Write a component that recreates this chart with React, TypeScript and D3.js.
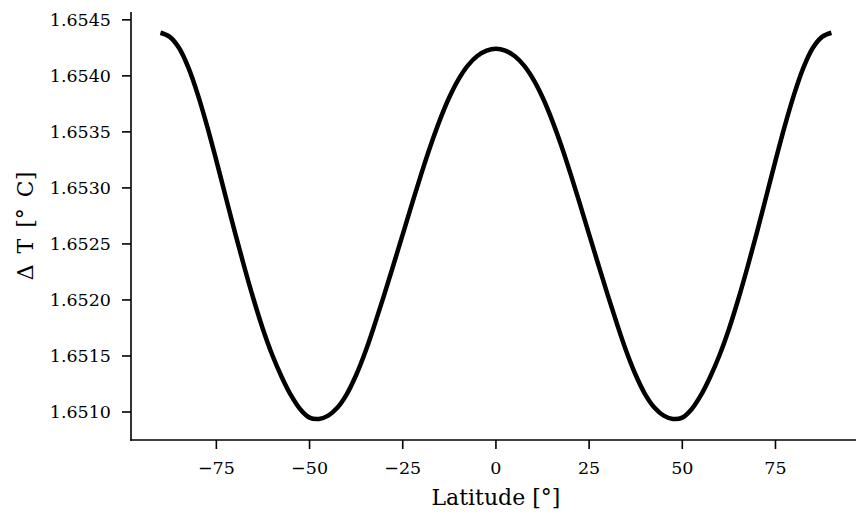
import React from "react";
import * as d3 from "d3";

// Temperature change versus latitude, sampled every 2.5 degrees
const latitudes = [
  -90, -87.5, -85, -82.5, -80, -77.5, -75, -72.5, -70, -67.5, -65, -62.5, -60, -57.5, -55,
  -52.5, -50, -47.5, -45, -42.5, -40, -37.5, -35, -32.5, -30, -27.5, -25, -22.5, -20, -17.5,
  -15, -12.5, -10, -7.5, -5, -2.5, 0, 2.5, 5, 7.5, 10, 12.5, 15, 17.5, 20, 22.5, 25, 27.5, 30,
  32.5, 35, 37.5, 40, 42.5, 45, 47.5, 50, 52.5, 55, 57.5, 60, 62.5, 65, 67.5, 70, 72.5, 75,
  77.5, 80, 82.5, 85, 87.5, 90,
];
const deltaT = [
  1.654385, 1.654348, 1.654248, 1.654073, 1.653835, 1.653554, 1.653244, 1.652921, 1.652601,
  1.652294, 1.652004, 1.651739, 1.651509, 1.651315, 1.65115, 1.651025, 1.65095, 1.650938,
  1.650968, 1.65104, 1.65116, 1.65133, 1.65154, 1.651784, 1.652043, 1.652312, 1.652586,
  1.65286, 1.653128, 1.653381, 1.65361, 1.653809, 1.653971, 1.654094, 1.654177, 1.654225,
  1.654241, 1.654225, 1.654177, 1.654094, 1.653971, 1.653809, 1.65361, 1.653381, 1.653128,
  1.65286, 1.652586, 1.652312, 1.652043, 1.651784, 1.65154, 1.65133, 1.65116, 1.65104,
  1.650968, 1.650938, 1.65095, 1.651025, 1.65115, 1.651315, 1.651509, 1.651739, 1.652004,
  1.652294, 1.652601, 1.652921, 1.653244, 1.653554, 1.653835, 1.654073, 1.654248, 1.654348,
  1.654385,
];
const xTicks = [-75, -50, -25, 0, 25, 50, 75];
const yTicks = [1.651, 1.6515, 1.652, 1.6525, 1.653, 1.6535, 1.654, 1.6545];

const W = 856;
const H = 520;
const left = 131;
const right = 856;
const top = 12;
const bottom = 440;
const FONT = "'DejaVu Serif', serif";

export default function App() {
  const x = d3.scaleLinear().domain([-97.9, 96.6]).range([left, right]);
  const y = d3.scaleLinear().domain([1.65075, 1.65457]).range([bottom, top]);

  const pts: [number, number][] = latitudes.map((lat, i) => [lat, deltaT[i]]);
  const line = d3
    .line<[number, number]>()
    .x((d) => x(d[0]))
    .y((d) => y(d[1]))
    .curve(d3.curveCatmullRom.alpha(0.5));

  const fmtX = (v: number) => (v < 0 ? `\u2212${Math.abs(v)}` : `${v}`);

  return (
    <svg
      width={W}
      height={H}
      style={{ position: "absolute", left: 0, top: 0, display: "block", background: "#fff" }}
    >
      <path
        d={line(pts) ?? ""}
        fill="none"
        stroke="#000"
        strokeWidth={4.5}
        strokeLinejoin="round"
      />

      {/* spines */}
      <line x1={left} x2={left} y1={top} y2={bottom + 0.8} stroke="#000" strokeWidth={1.6} />
      <line x1={left - 0.8} x2={right} y1={bottom} y2={bottom} stroke="#000" strokeWidth={1.6} />

      {/* y ticks */}
      {yTicks.map((t) => (
        <g key={t} transform={`translate(0,${y(t)})`}>
          <line x1={left - 9} x2={left} stroke="#000" strokeWidth={1.6} />
          <text
            x={left - 20}
            dy="0.36em"
            textAnchor="end"
            fontFamily={FONT}
            fontSize={17.5}
            fill="#000"
          >
            {t.toFixed(4)}
          </text>
        </g>
      ))}

      {/* x ticks */}
      {xTicks.map((t) => (
        <g key={t} transform={`translate(${x(t)},0)`}>
          <line y1={bottom} y2={bottom + 9} stroke="#000" strokeWidth={1.6} />
          <text
            y={474}
            textAnchor="middle"
            fontFamily={FONT}
            fontSize={17.5}
            fill="#000"
          >
            {fmtX(t)}
          </text>
        </g>
      ))}

      <text
        x={x(0)}
        y={505}
        textAnchor="middle"
        fontFamily={FONT}
        fontSize={22}
        fill="#000"
      >
        Latitude [°]
      </text>
      <text
        transform={`translate(33,226) rotate(-90)`}
        textAnchor="middle"
        fontFamily={FONT}
        fontSize={22}
        wordSpacing={4}
        fill="#000"
      >
        Δ T [° C]
      </text>
    </svg>
  );
}
